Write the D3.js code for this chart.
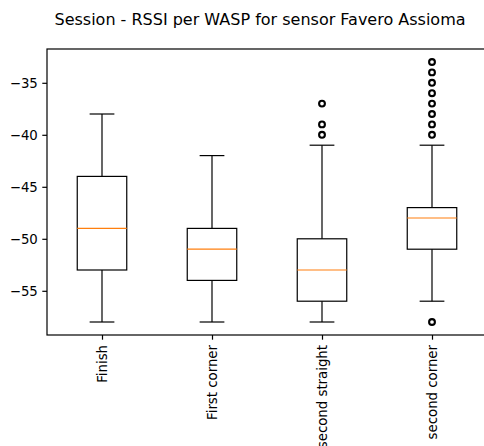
<!DOCTYPE html>
<html>
<head>
<meta charset="utf-8">
<script src="https://cdn.jsdelivr.net/npm/d3@7"></script>
<style>
  body { margin: 0; background: #fff; }
  text { font-family: "DejaVu Sans", sans-serif; fill: #000; }
</style>
</head>
<body>
<div id="viz_container"></div>
<script>
// box plot stats
const categories = ["Finish", "First corner", "second straight", "second corner"];
const whiskerLow = [-58, -58, -58, -56];
const q1 = [-53, -54, -56, -51];
const median = [-49, -51, -53, -48];
const q3 = [-44, -49, -50, -47];
const whiskerHigh = [-38, -42, -41, -41];
const outliers = [
    [],
    [],
    [-37, -39, -40],
    [-33, -34, -35, -36, -37, -38, -39, -40, -58]
];
const yTicks = [-35, -40, -45, -50, -55];

var margin = {top: 49, left: 47},
    width = 440,
    height = 286;

var svg = d3.select("#viz_container").append("svg")
    .attr("width", 484)
    .attr("height", 446)
  .append("g")
    .attr("transform", "translate(" + margin.left + "," + margin.top + ")");

// positions 1..n like matplotlib, xlim 0.5..n+0.5
var x = d3.scaleLinear().domain([0.5, categories.length + 0.5]).range([0, width]);
var y = d3.scaleLinear().domain([-59.25, -31.75]).range([height, 0]);

var boxW = 0.45, capW = 0.225;
var lw = 1.2;
var fmt = d => String(d).replace("-", "\u2212");

// y axis
svg.append("g")
    .call(d3.axisLeft(y).tickValues(yTicks).tickFormat(fmt).tickSize(4.7).tickPadding(4.5))
    .call(g => g.select(".domain").remove())
    .call(g => g.selectAll("line").attr("stroke", "#000").attr("stroke-width", lw))
    .call(g => g.selectAll("text").style("font-size", "13.3px").style("font-family", "DejaVu Sans"));

// x axis ticks with rotated labels
var xAxis = svg.append("g")
    .attr("transform", "translate(0," + height + ")")
    .call(d3.axisBottom(x).tickValues(d3.range(1, categories.length + 1))
        .tickFormat((d, i) => categories[i]).tickSize(4.7))
    .call(g => g.select(".domain").remove())
    .call(g => g.selectAll("line").attr("stroke", "#000").attr("stroke-width", lw));
xAxis.selectAll("text")
    .style("font-size", "13.3px")
    .style("font-family", "DejaVu Sans")
    .attr("transform", "rotate(-90)")
    .attr("x", -10)
    .attr("y", 0)
    .attr("dy", "0.35em")
    .style("text-anchor", "end");

// frame
svg.append("rect")
    .attr("width", width)
    .attr("height", height)
    .attr("fill", "none")
    .attr("stroke", "#000")
    .attr("stroke-width", lw);

// boxes
var boxes = svg.selectAll(".box")
    .data(categories)
  .enter().append("g")
    .attr("class", "box")
    .attr("stroke-width", lw);

boxes.append("line") // lower whisker
    .attr("x1", (d, i) => x(i + 1)).attr("x2", (d, i) => x(i + 1))
    .attr("y1", (d, i) => y(whiskerLow[i])).attr("y2", (d, i) => y(q1[i]))
    .attr("stroke", "#000");
boxes.append("line") // upper whisker
    .attr("x1", (d, i) => x(i + 1)).attr("x2", (d, i) => x(i + 1))
    .attr("y1", (d, i) => y(whiskerHigh[i])).attr("y2", (d, i) => y(q3[i]))
    .attr("stroke", "#000");
boxes.append("line") // lower cap
    .attr("x1", (d, i) => x(i + 1 - capW / 2)).attr("x2", (d, i) => x(i + 1 + capW / 2))
    .attr("y1", (d, i) => y(whiskerLow[i])).attr("y2", (d, i) => y(whiskerLow[i]))
    .attr("stroke", "#000");
boxes.append("line") // upper cap
    .attr("x1", (d, i) => x(i + 1 - capW / 2)).attr("x2", (d, i) => x(i + 1 + capW / 2))
    .attr("y1", (d, i) => y(whiskerHigh[i])).attr("y2", (d, i) => y(whiskerHigh[i]))
    .attr("stroke", "#000");
boxes.append("rect")
    .attr("x", (d, i) => x(i + 1 - boxW / 2))
    .attr("width", (d, i) => x(i + 1 + boxW / 2) - x(i + 1 - boxW / 2))
    .attr("y", (d, i) => y(q3[i]))
    .attr("height", (d, i) => y(q1[i]) - y(q3[i]))
    .attr("fill", "none")
    .attr("stroke", "#000");
boxes.append("line") // median
    .attr("x1", (d, i) => x(i + 1 - boxW / 2)).attr("x2", (d, i) => x(i + 1 + boxW / 2))
    .attr("y1", (d, i) => y(median[i])).attr("y2", (d, i) => y(median[i]))
    .attr("stroke", "#ff7f0e");

// fliers
boxes.each(function(d, i) {
    d3.select(this).selectAll("circle")
        .data(outliers[i])
      .enter().append("circle")
        .attr("cx", x(i + 1))
        .attr("cy", v => y(v))
        .attr("r", 2.9)
        .attr("fill", "none")
        .attr("stroke", "#000")
        .attr("stroke-width", 2.1);
});

// title
d3.select("svg").append("text")
    .attr("x", 260)
    .attr("y", 25)
    .style("text-anchor", "middle")
    .style("font-size", "16px")
    .text("Session - RSSI per WASP for sensor Favero Assioma");
</script>
</body>
</html>
